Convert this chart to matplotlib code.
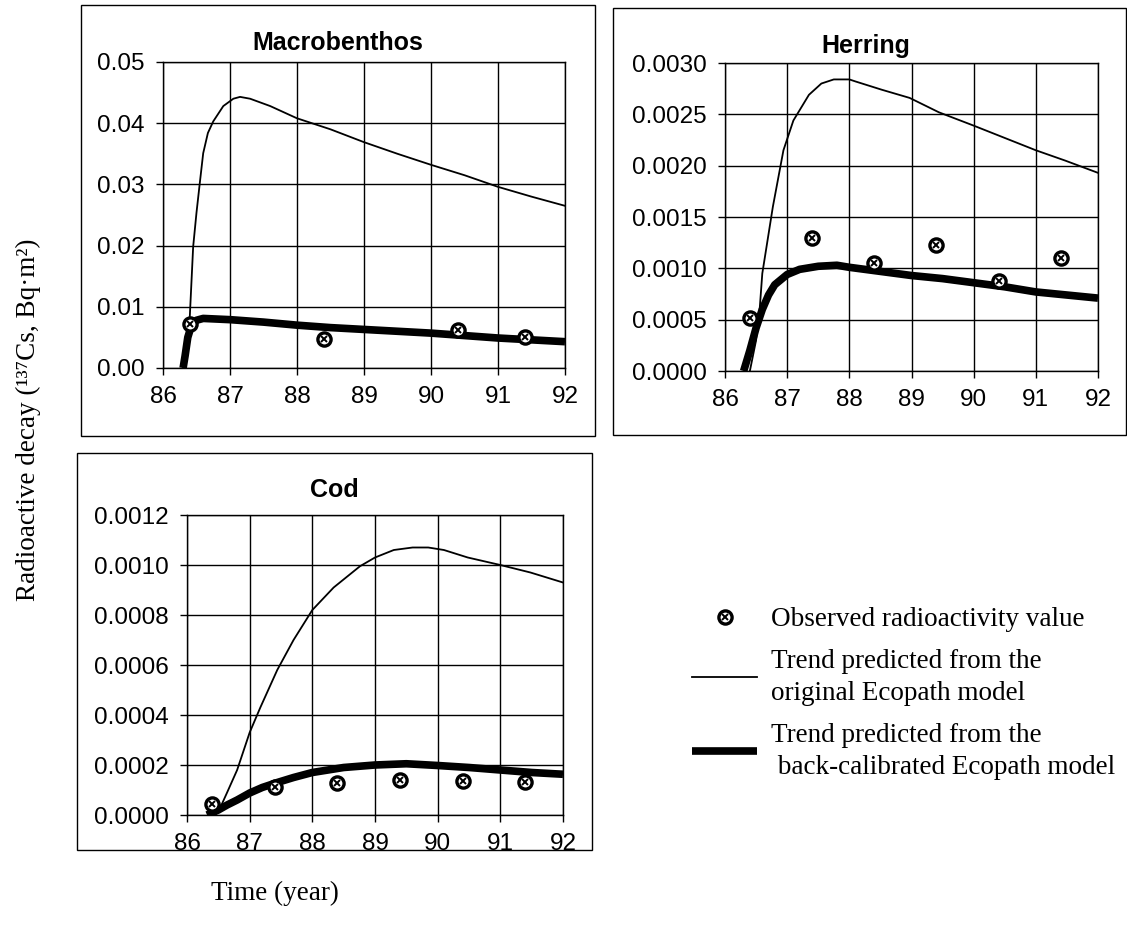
import matplotlib
matplotlib.use('Agg')
import matplotlib.pyplot as plt
from matplotlib.patches import Rectangle
from matplotlib.ticker import FixedLocator, FormatStrFormatter

# ---------------- data ----------------
years_ticks = [86, 87, 88, 89, 90, 91, 92]

# Macrobenthos
mac_orig_x = [86.3, 86.35, 86.4, 86.45, 86.5, 86.55, 86.6, 86.67, 86.75, 86.9, 87.05, 87.15, 87.3,
              87.6, 88.0, 88.5, 89.0, 89.5, 90.0, 90.5, 91.0, 91.5, 92.0]
mac_orig_y = [0.0, 0.003, 0.0084, 0.0198, 0.0254, 0.0303, 0.0351, 0.0384, 0.0403, 0.0428, 0.0440,
              0.0443, 0.0440, 0.0428, 0.0408, 0.0390, 0.0369, 0.0350, 0.0332, 0.0315, 0.0296, 0.0280, 0.0265]
mac_cal_x = [86.3, 86.33, 86.37, 86.42, 86.5, 86.6, 86.8, 87.0, 87.5, 88.0, 88.5, 89.0, 89.5,
             90.0, 90.5, 91.0, 91.5, 92.0]
mac_cal_y = [0.0, 0.002, 0.005, 0.0068, 0.0078, 0.0081, 0.0080, 0.0079, 0.0075, 0.0070, 0.0066,
             0.0063, 0.0060, 0.0057, 0.0053, 0.0049, 0.0046, 0.0043]
mac_obs_x = [86.4, 88.4, 90.4, 91.4]
mac_obs_y = [0.0072, 0.0047, 0.0062, 0.0050]

# Herring
her_orig_x = [86.4, 86.5, 86.56, 86.6, 86.77, 86.94, 87.1, 87.35, 87.55, 87.75, 88.0, 88.1, 88.52,
              88.97, 89.44, 90.0, 90.5, 91.0, 91.47, 92.0]
her_orig_y = [0.0, 0.0003, 0.00062, 0.00095, 0.0016, 0.00215, 0.00244, 0.00269, 0.00280, 0.00284,
              0.00284, 0.00282, 0.00274, 0.00266, 0.00252, 0.00239, 0.00227, 0.00215, 0.00205, 0.00193]
her_cal_x = [86.3, 86.4, 86.5, 86.6, 86.7, 86.8, 87.0, 87.2, 87.5, 87.8, 88.0, 88.5, 89.0, 89.5,
             90.0, 90.5, 91.0, 91.5, 92.0]
her_cal_y = [0.0, 0.0002, 0.00042, 0.0006, 0.00074, 0.00084, 0.00094, 0.00099, 0.00102, 0.00103,
             0.00101, 0.00097, 0.00093, 0.00090, 0.00086, 0.00082, 0.00077, 0.00074, 0.00071]
her_obs_x = [86.4, 87.4, 88.4, 89.4, 90.4, 91.4]
her_obs_y = [0.00052, 0.00130, 0.00105, 0.00123, 0.00088, 0.00110]

# Cod
cod_orig_x = [86.45, 86.55, 86.64, 86.8, 87.0, 87.17, 87.44, 87.7, 88.0, 88.34, 88.76, 89.0, 89.3,
              89.6, 89.85, 90.1, 90.48, 91.0, 91.48, 92.0]
cod_orig_y = [0.0, 0.00004, 0.00009, 0.00018, 0.00033, 0.00043, 0.00058, 0.00070, 0.00082, 0.00091,
              0.000995, 0.00103, 0.00106, 0.00107, 0.00107, 0.00106, 0.00103, 0.00100, 0.00097, 0.00093]
cod_cal_x = [86.32, 86.5, 86.64, 86.8, 87.0, 87.2, 87.44, 87.7, 88.0, 88.5, 89.0, 89.5, 90.0, 90.5,
             91.0, 91.5, 92.0]
cod_cal_y = [0.0, 0.00002, 0.00004, 0.00006, 0.000088, 0.00011, 0.00013, 0.00015, 0.00017, 0.00019,
             0.00020, 0.000205, 0.000198, 0.00019, 0.00018, 0.00017, 0.000163]
cod_obs_x = [86.4, 87.4, 88.4, 89.4, 90.4, 91.4]
cod_obs_y = [0.000044, 0.000113, 0.000128, 0.00014, 0.000136, 0.000132]

titles = ['Macrobenthos', 'Herring', 'Cod']
y_ticks = {
    'Macrobenthos': [0.0, 0.01, 0.02, 0.03, 0.04, 0.05],
    'Herring': [0.0, 0.0005, 0.0010, 0.0015, 0.0020, 0.0025, 0.0030],
    'Cod': [0.0, 0.0002, 0.0004, 0.0006, 0.0008, 0.0010, 0.0012],
}
y_fmt = {'Macrobenthos': '%.2f', 'Herring': '%.4f', 'Cod': '%.4f'}
legend_labels = ['Observed radioactivity value',
                 'Trend predicted from the\noriginal Ecopath model',
                 'Trend predicted from the\n back-calibrated Ecopath model']
y_label = 'Radioactive decay (\u00b9\u00b3\u2077Cs, Bq\u00b7m\u00b2)'
x_label = 'Time (year)'

# ---------------- layout ----------------
W, H = 1127, 932
fig = plt.figure(figsize=(W / 100, H / 100), dpi=100)

SANS = ['Liberation Sans', 'DejaVu Sans']
SERIF = ['Liberation Serif', 'DejaVu Serif']


def rect(x0, x1, y0, y1):
    return [x0 / W, 1 - y1 / H, (x1 - x0) / W, (y1 - y0) / H]


def fpt(x, y):
    return (x / W, 1 - y / H)


# panel frames
for (x0, x1, y0, y1) in [(81, 595, 5, 436), (613, 1126, 8, 435), (77, 592, 453, 850)]:
    fig.patches.append(Rectangle((x0 / W, 1 - y1 / H), (x1 - x0) / W, (y1 - y0) / H,
                                 transform=fig.transFigure, fill=False, edgecolor='black',
                                 linewidth=1.0, figure=fig))

axes_px = {
    'Macrobenthos': (163, 565, 62, 368),
    'Herring': (725, 1098, 63, 371),
    'Cod': (187, 563, 515, 815),
}
title_px = {
    'Macrobenthos': (338, 43),
    'Herring': (866, 46),
    'Cod': (334, 490),
}
series = {
    'Macrobenthos': (mac_orig_x, mac_orig_y, mac_cal_x, mac_cal_y, mac_obs_x, mac_obs_y),
    'Herring': (her_orig_x, her_orig_y, her_cal_x, her_cal_y, her_obs_x, her_obs_y),
    'Cod': (cod_orig_x, cod_orig_y, cod_cal_x, cod_cal_y, cod_obs_x, cod_obs_y),
}

handles = None
for name in titles:
    ax = fig.add_axes(rect(*axes_px[name]))
    ox, oy, cx, cy, px, py = series[name]
    l_thin, = ax.plot(ox, oy, color='black', lw=1.3, zorder=3)
    l_thick, = ax.plot(cx, cy, color='black', lw=5.5, solid_capstyle='butt', zorder=4)
    m1, = ax.plot(px, py, ls='none', marker='o', ms=9.5, mfc='white', mec='black', mew=2.4, zorder=5)
    m2, = ax.plot(px, py, ls='none', marker='x', ms=4, mec='black', mew=1.4, zorder=6)
    if handles is None:
        handles = [(m1, m2), l_thin, l_thick]
    yt = y_ticks[name]
    ax.set_xlim(86, 92)
    ax.set_ylim(yt[0], yt[-1])
    ax.xaxis.set_major_locator(FixedLocator(years_ticks))
    ax.yaxis.set_major_locator(FixedLocator(yt))
    ax.yaxis.set_major_formatter(FormatStrFormatter(y_fmt[name]))
    ax.xaxis.set_major_formatter(FormatStrFormatter('%d'))
    ax.grid(True, color='black', lw=1.0)
    ax.set_axisbelow(True)
    for s in ax.spines.values():
        s.set_color('black')
        s.set_linewidth(1.0)
    ax.tick_params(direction='out', length=5, width=1.0, color='black', labelsize=17.5, pad=8)
    for lab in ax.get_xticklabels() + ax.get_yticklabels():
        lab.set_fontfamily(SANS)
    tx, ty = title_px[name]
    fig.text(*fpt(tx, ty), name, ha='center', va='center', fontsize=18, fontweight='bold',
             family=SANS)

# axis labels
fig.text(*fpt(28, 420), y_label, rotation=90, ha='center', va='center', fontsize=19.5, family=SERIF)
fig.text(*fpt(275, 893), x_label, ha='center', va='center', fontsize=19.5, family=SERIF)

# legend
leg = fig.legend(handles, legend_labels, loc='upper left', bbox_to_anchor=fpt(692, 607),
                 frameon=False, borderpad=0, borderaxespad=0, handlelength=2.4, handletextpad=0.5,
                 labelspacing=0.62, prop={'family': SERIF, 'size': 19.5})
for t in leg.get_texts():
    t.set_linespacing(1.38)

fig.savefig('out.png', dpi=100, facecolor='white')
